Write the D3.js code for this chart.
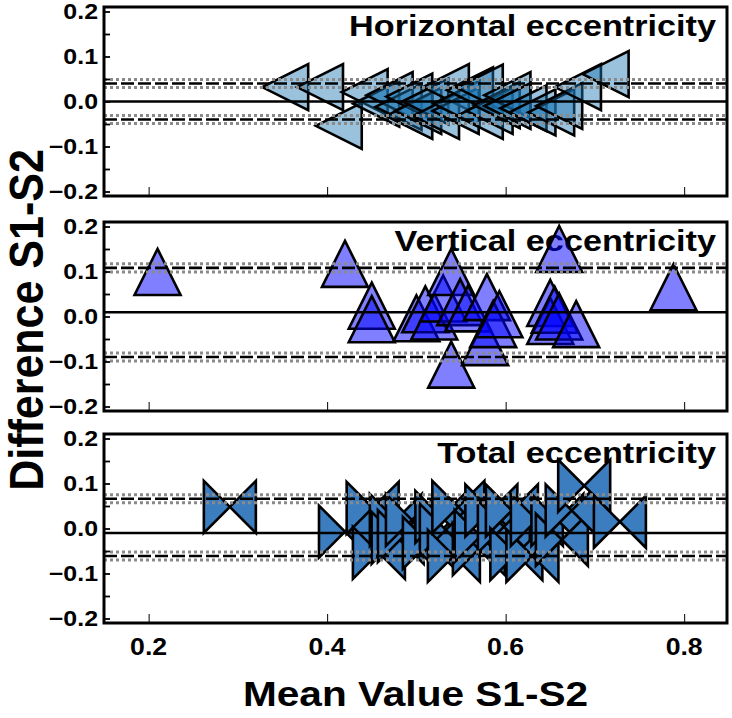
<!DOCTYPE html>
<html><head><meta charset="utf-8">
<script src="https://cdn.jsdelivr.net/npm/d3@7"></script>
<style>
body{margin:0;background:#fff}
text{font-family:"Liberation Sans",Arial,sans-serif;font-weight:bold;fill:#000}
</style>
</head><body>
<svg id="chart" width="732" height="718"></svg>
<script>
// ---------------- data ----------------
const panelTitles = ["Horizontal eccentricity", "Vertical eccentricity", "Total eccentricity"];
const xTicks = [0.2, 0.4, 0.6, 0.8];
const yTicks = [-0.2, -0.1, 0.0, 0.1, 0.2];
const xDomain = [0.15, 0.848];
const yDomain = [-0.21, 0.21];

const horizX = [0.353, 0.392, 0.413, 0.442, 0.455, 0.470, 0.480, 0.492, 0.492, 0.502, 0.510, 0.522, 0.533, 0.544, 0.545, 0.560, 0.571, 0.571, 0.582, 0.590, 0.602, 0.602, 0.620, 0.630, 0.651, 0.660, 0.681, 0.712];
const horizY = [0.032, 0.032, -0.054, 0.021, -0.005, 0.014, -0.012, -0.032, 0.011, -0.021, 0.000, -0.032, 0.032, -0.021, -0.005, 0.025, 0.031, -0.032, -0.021, -0.008, 0.014, -0.010, -0.015, -0.024, -0.024, -0.010, 0.032, 0.061];

const vertX = [0.210, 0.420, 0.450, 0.450, 0.500, 0.510, 0.520, 0.530, 0.539, 0.539, 0.549, 0.558, 0.577, 0.579, 0.586, 0.593, 0.650, 0.650, 0.655, 0.660, 0.660, 0.679, 0.788];
const vertY = [0.099, 0.117, 0.024, -0.006, -0.004, 0.016, 0.000, 0.040, 0.099, -0.107, 0.032, 0.018, -0.057, 0.043, -0.017, 0.005, 0.030, -0.010, 0.015, 0.150, 0.000, -0.017, 0.065];

const totalX = [0.291, 0.420, 0.451, 0.458, 0.477, 0.479, 0.486, 0.495, 0.514, 0.528, 0.533, 0.542, 0.547, 0.570, 0.572, 0.584, 0.598, 0.607, 0.612, 0.630, 0.635, 0.658, 0.663, 0.674, 0.688, 0.728];
const totalY = [0.048, -0.007, 0.046, -0.054, 0.019, -0.021, -0.017, 0.019, -0.032, 0.026, -0.003, -0.061, 0.048, -0.046, -0.017, 0.040, 0.004, 0.040, -0.057, -0.061, 0.019, 0.019, -0.025, 0.040, 0.095, 0.015];

const meanDiff = [0.000, 0.0096, -0.010];
const upperLoA = [0.040, 0.108, 0.066];
const lowerLoA = [-0.040, -0.090, -0.061];
const ciHalf = 0.009;

const markerShape = ["left", "up", "bowtie"];
const fills = ["rgba(31,119,180,0.45)", "rgba(0,0,255,0.5)", "#3b7dbf"];

// ---------------- layout ----------------
const svg = d3.select("#chart");
const left = 104, right = 727;
const panelTops = [7, 222, 434];
const panelH = 189;
const stretch = 1.16;
const x = d3.scaleLinear().domain(xDomain).range([left, right]);
const fmt = d3.format(".1f");

const xs = [horizX, vertX, totalX];
const ys = [horizY, vertY, totalY];

function markerPath(kind, s) {
  const h = s / 2;
  if (kind === "left") return `M${-h},0L${h},${-h}L${h},${h}Z`;
  if (kind === "up") return `M0,${-h}L${h},${h}L${-h},${h}Z`;
  return `M${-h},${-h}L${h},${h}L${h},${-h}L${-h},${h}Z`;
}

function label(parent, tx, ty, str, size, anchor, extra, sx) {
  return parent.append("text")
    .attr("transform", `translate(${tx},${ty}) scale(${sx || stretch},1)` + (extra || ""))
    .attr("text-anchor", anchor).style("font-size", size + "px").text(str);
}

panelTops.forEach((top, i) => {
  const y = d3.scaleLinear().domain(yDomain).range([top + panelH, top]);
  const g = svg.append("g");

  g.append("clipPath").attr("id", "clip" + i)
    .append("rect").attr("x", left).attr("y", top).attr("width", right - left).attr("height", panelH);

  // title
  label(g, 716, top + 29, panelTitles[i], 29.5, "end");

  // markers
  const pts = xs[i].map((v, k) => [v, ys[i][k]]);
  const size = markerShape[i] === "bowtie" ? 52 : 46;
  g.append("g").attr("clip-path", `url(#clip${i})`)
    .selectAll("path").data(pts).join("path")
    .attr("transform", d => `translate(${x(d[0])},${y(d[1])})`)
    .attr("d", markerPath(markerShape[i], size))
    .attr("fill", fills[i])
    .attr("stroke", "#000").attr("stroke-width", 2.6)
    .attr("stroke-linejoin", "miter").attr("stroke-miterlimit", 10);

  // reference lines
  const lg = g.append("g").attr("clip-path", `url(#clip${i})`);
  const hline = (v, color, w, dash) => lg.append("line")
    .attr("x1", left).attr("x2", right).attr("y1", y(v)).attr("y2", y(v))
    .attr("stroke", color).attr("stroke-width", w).attr("stroke-dasharray", dash);
  [upperLoA[i], lowerLoA[i]].forEach(v => {
    hline(v + ciHalf, "#8a8a8a", 3, "3,3");
    hline(v - ciHalf, "#8a8a8a", 3, "3,3");
    hline(v, "#000", 2.6, "13,4");
  });
  hline(meanDiff[i], "#000", 2.6, null);

  // y ticks (inward, minor every 0.05)
  const yMinor = d3.range(-4, 5).map(k => k * 0.05);
  g.append("g").attr("transform", `translate(${left},0)`)
    .call(d3.axisLeft(y).tickValues(yMinor).tickSize(-6).tickFormat(""))
    .call(a => a.select(".domain").remove())
    .call(a => a.selectAll("line").attr("stroke-width", 1.8));
  yTicks.forEach(v => label(g, 98, y(v) + 7.6, fmt(v), 21.5, "end"));

  // x ticks (inward)
  g.append("g").attr("transform", `translate(0,${top + panelH})`)
    .call(d3.axisBottom(x).tickValues(xTicks).tickSize(-9).tickFormat(""))
    .call(a => a.select(".domain").remove())
    .call(a => a.selectAll("line").attr("stroke-width", 1));
  if (i === 2) xTicks.forEach(v => label(g, x(v), top + panelH + 32, fmt(v), 23, "middle"));

  // frame
  g.append("rect").attr("x", left).attr("y", top).attr("width", right - left).attr("height", panelH)
    .attr("fill", "none").attr("stroke", "#000").attr("stroke-width", 3);
});

// axis labels
label(svg, (left + right) / 2, 706, "Mean Value S1-S2", 35, "middle");
label(svg, 43, 320, "Difference S1-S2", 43, "middle", " rotate(-90)", 1.1);
</script>
</body></html>
